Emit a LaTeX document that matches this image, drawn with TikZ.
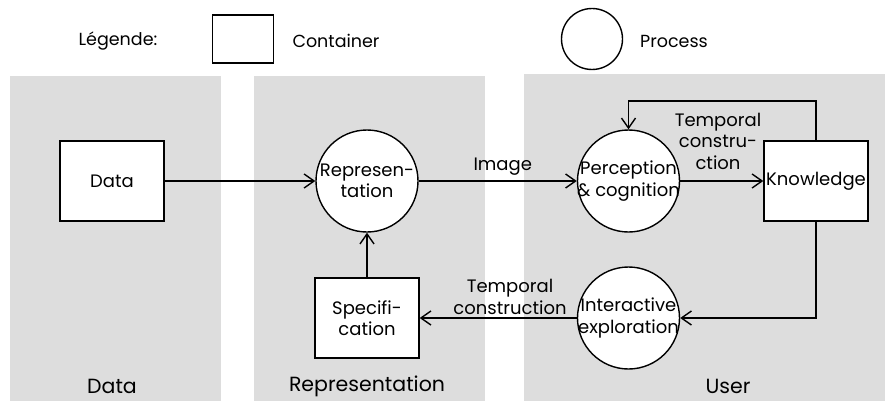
\documentclass[tikz,border=0pt]{standalone}
\usepackage{fontspec}
\setmainfont{Poppins}
\usetikzlibrary{arrows.meta}
\definecolor{panelgrey}{HTML}{DDDDDD}
\tikzset{
  line/.style={line width=1.4pt, draw=black},
  arr/.style={line, -{Straight Barb[length=10pt,width=14pt,line width=1.4pt]}},
  container/.style={rectangle, line, fill=white, minimum width=104pt, minimum height=80pt, inner sep=0pt, font=\fontsize{18}{21.5}\selectfont, align=center},
  proc/.style={circle, line, fill=white, minimum size=102pt, inner sep=-9pt, font=\fontsize{18}{21.5}\selectfont, align=center},
  panel/.style={fill=panelgrey, draw=none},
  plabel/.style={font=\fontsize{20.5}{24}\selectfont, inner sep=0pt},
  elabel/.style={font=\fontsize{18}{21.5}\selectfont, align=center, inner sep=0pt},
  legtext/.style={font=\fontsize{17.5}{20}\selectfont, inner sep=0pt}
}
\begin{document}
\begin{tikzpicture}[x=1pt,y=-1pt]
\useasboundingbox (0,0) rectangle (885,401);
% panels
\fill[panel] (10,76) rectangle (221,401);
\fill[panel] (254,76) rectangle (485,401);
\fill[panel] (524,74) rectangle (885,401);
% legend
\node[legtext] (legtitle) at (118,41) {Légende:};
\node[rectangle, line, minimum width=61pt, minimum height=48pt, inner sep=0pt] (legbox) at (243,39) {};
\node[legtext] (legcont) at (336,41) {Container};
\node[circle, line, minimum size=61pt, inner sep=0pt] (legcirc) at (592,39) {};
\node[legtext] (legproc) at (674,41) {Process};
% panel labels
\node[plabel] (pdata) at (112,386) {Data};
\node[plabel] (prep) at (367,386) {Representation};
\node[plabel] (puser) at (728,386) {User};
% nodes
\node[container] (data) at (112,181) {Data};
\node[proc] (rep) at (367,181) {Represen-\\tation};
\node[container] (spec) at (367,318) {Specifi-\\cation};
\node[proc] (perc) at (628.5,181) {Perception\\\& cognition};
\node[container] (know) at (816,181) {Knowledge};
\node[proc] (inter) at (628.5,318) {Interactive\\exploration};
\coordinate (loopTR) at (816,101);
\coordinate (loopTL) at (628.5,101);
\coordinate (loopBR) at (816,318);
% connectors
\draw[arr] (data) -- (rep);
\draw[arr] (rep) -- node[elabel, above=5pt, xshift=5pt] (limg) {Image} (perc);
\draw[arr] (perc) -- (know);
\node[elabel] (ltc1) at (718,141) {Temporal\\constru-\\ction};
\draw[arr] (know.north) -- (loopTR) -- (loopTL) -- (perc.north);
\draw[arr] (know.south) -- (loopBR) -- (inter.east);
\draw[arr] (inter) -- (spec);
\node[elabel] (ltc2) at (510,297) {Temporal\\construction};
\draw[arr] (spec) -- (rep);
\end{tikzpicture}
\end{document}
